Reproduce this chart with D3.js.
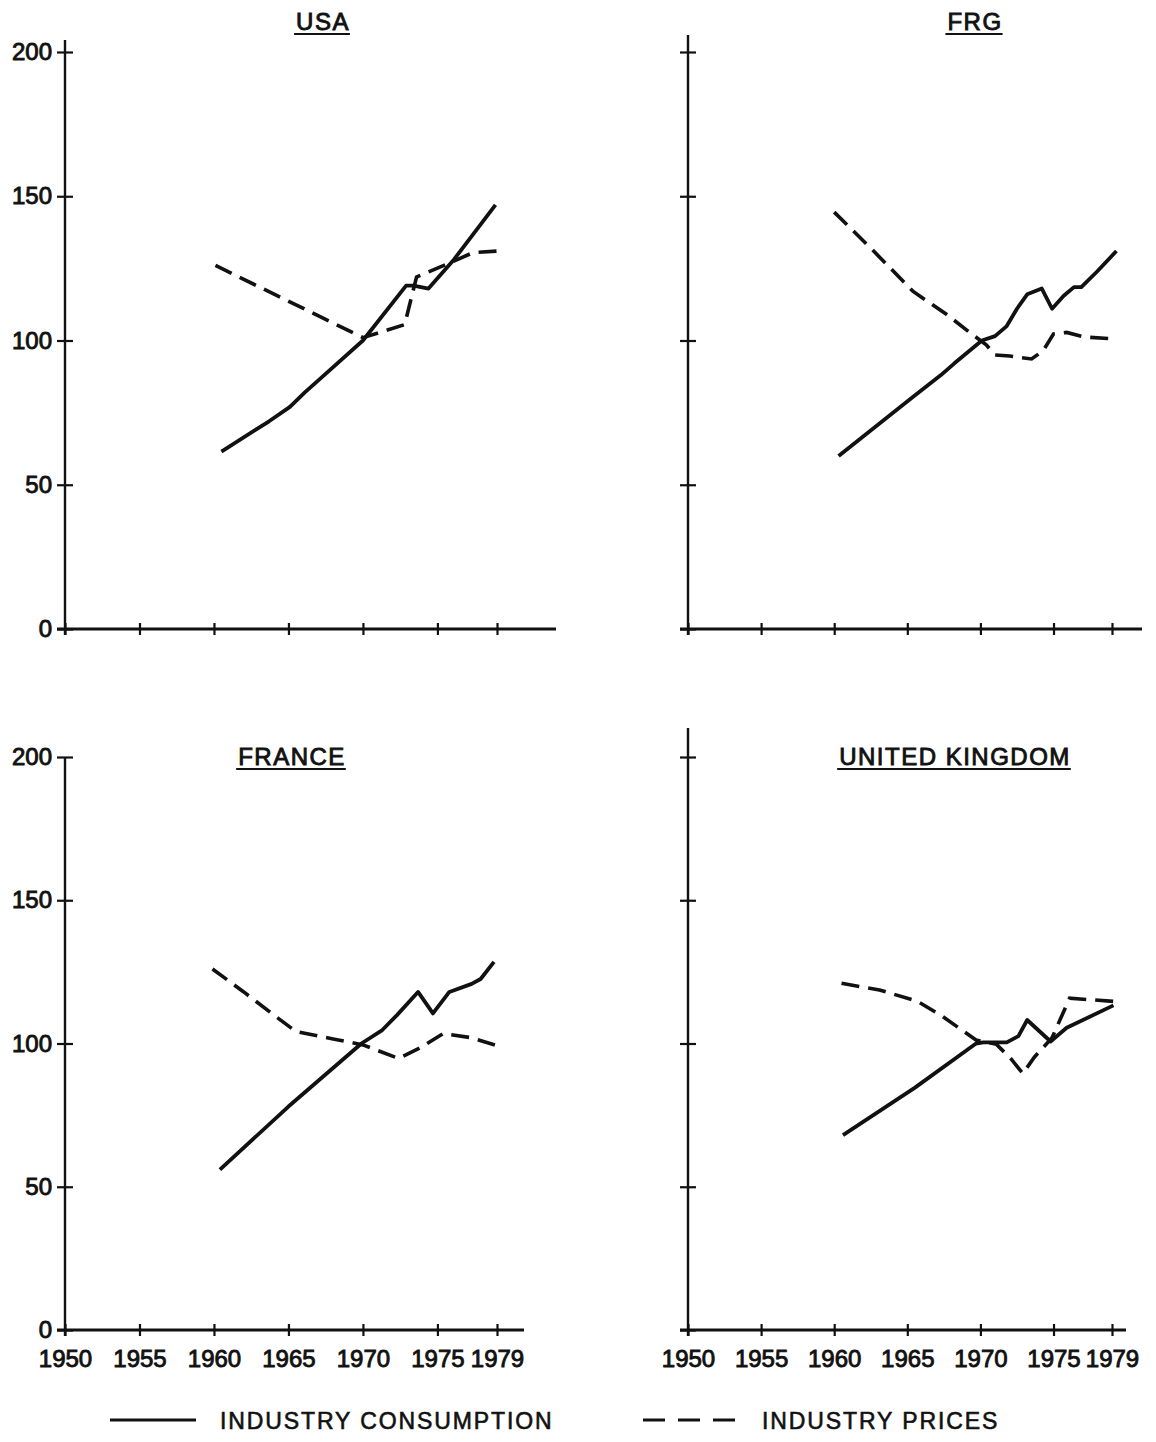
<!DOCTYPE html>
<html>
<head>
<meta charset="utf-8">
<script src="https://cdn.jsdelivr.net/npm/d3@7"></script>
<style>
  body { margin: 0; background: #fff; }
  svg text { font-family: "Liberation Sans", Arial, sans-serif; fill: #111; }
</style>
</head>
<body>
<svg id="chart" width="1156" height="1442"></svg>
<script>
// values: [year, index 1970 = 100]
const usaConsumption = [[1960.5, 61.5], [1963.7, 72], [1965.1, 77], [1966.1, 82], [1967.4, 88], [1970, 100],
  [1972.9, 119], [1973.4, 119], [1974.4, 118], [1976.1, 128], [1978.9, 147]];
const usaPrices = [[1960.1, 126], [1970, 101], [1972.8, 105.5], [1973.6, 122], [1976.1, 127.5], [1977.4, 130.5], [1979, 131]];

const frgConsumption = [[1960.3, 60], [1965.4, 80.5], [1967.3, 88], [1968.2, 92], [1970.1, 100], [1971, 101.5],
  [1971.8, 105], [1972.5, 111], [1973.2, 116], [1974.2, 118], [1974.9, 111], [1975.7, 115.5], [1976.4, 118.5],
  [1976.9, 118.5], [1978, 124], [1979.3, 131]];
const frgPrices = [[1960, 144.5], [1962.6, 131.5], [1965.4, 117], [1967.7, 109], [1969.6, 101.5], [1970.4, 98.5],
  [1971, 95], [1972, 94.6], [1973.5, 93.6], [1974.3, 96.5], [1975, 102.3], [1975.9, 102.8], [1977.1, 101.2], [1979.1, 100.6]];

const franceConsumption = [[1960.4, 56], [1965, 78], [1969.9, 100], [1971.3, 104.7], [1972.3, 110], [1973.7, 118],
  [1974.7, 110.5], [1975.8, 118], [1977.3, 120.8], [1977.9, 122.5], [1978.8, 128.5]];
const francePrices = [[1959.9, 126], [1962, 118], [1964, 110], [1965.5, 104.2], [1968, 101.6], [1970, 99.5],
  [1972.4, 94.8], [1973.8, 98.4], [1975.4, 103.5], [1977.3, 102], [1978.9, 99.4]];

const ukConsumption = [[1960.6, 68], [1965.5, 84.5], [1969.7, 100], [1970.2, 100.4], [1971.8, 100.4], [1972.6, 102.6],
  [1973.2, 108.2], [1974.8, 100.7], [1975.9, 105.5], [1979.1, 113.3]];
const ukPrices = [[1960.5, 121], [1963.1, 118.7], [1965.7, 114.7], [1967.4, 109.5], [1969.7, 101.2], [1971.1, 99.7],
  [1972.1, 94.6], [1972.9, 89.5], [1973.7, 95.3], [1974.9, 102], [1976.1, 115.8], [1979.1, 114.7]];

const yTicks = [0, 50, 100, 150, 200];
const xTicks = [1950, 1955, 1960, 1965, 1970, 1975, 1979];
const seriesNames = ["INDUSTRY CONSUMPTION", "INDUSTRY PRICES"];

const ink = "#111";
const dash = "18,9";

const panels = [
  { title: "USA", cons: usaConsumption, prices: usaPrices,
    x0: 65, x1: 497, xEnd: 556, y0: 629, y1: 52, yTop: 40, titleX: 323, titleY: 30, yLabels: true, xLabels: false },
  { title: "FRG", cons: frgConsumption, prices: frgPrices,
    x0: 688, x1: 1112, xEnd: 1142, y0: 629, y1: 52, yTop: 35, titleX: 975, titleY: 30, yLabels: false, xLabels: false },
  { title: "FRANCE", cons: franceConsumption, prices: francePrices,
    x0: 65, x1: 497, xEnd: 524, y0: 1330, y1: 757, yTop: 757, titleX: 292, titleY: 765, yLabels: true, xLabels: true },
  { title: "UNITED KINGDOM", cons: ukConsumption, prices: ukPrices,
    x0: 688, x1: 1112, xEnd: 1126, y0: 1330, y1: 757, yTop: 728, titleX: 955, titleY: 765, yLabels: false, xLabels: true }
];

const svg = d3.select("#chart");

panels.forEach(p => {
  const g = svg.append("g");
  const x = d3.scaleLinear().domain([1950, 1979]).range([p.x0, p.x1]);
  const y = d3.scaleLinear().domain([0, 200]).range([p.y0, p.y1]);

  // y axis, ticks cross the line
  const ya = g.append("g")
    .attr("transform", `translate(${p.x0},0)`)
    .call(d3.axisLeft(y).tickValues(yTicks).tickSize(8).tickPadding(5)
      .tickFormat(p.yLabels ? d3.format("d") : () => ""));
  ya.select(".domain").remove();
  ya.selectAll(".tick line").attr("x1", 8).attr("stroke", ink).attr("stroke-width", 2.2);
  ya.selectAll("text").attr("font-size", 24).attr("fill", ink)
    .attr("stroke", ink).attr("stroke-width", 0.9);

  g.append("line")
    .attr("x1", p.x0).attr("x2", p.x0)
    .attr("y1", p.yTop).attr("y2", p.y0 + 6)
    .attr("stroke", ink).attr("stroke-width", 2.4);

  // x axis
  const xa = g.append("g")
    .attr("transform", `translate(0,${p.y0})`)
    .call(d3.axisBottom(x).tickValues(xTicks).tickSize(6).tickPadding(14)
      .tickFormat(p.xLabels ? d3.format("d") : () => ""));
  xa.select(".domain").remove();
  xa.selectAll(".tick line").attr("y1", -6).attr("stroke", ink).attr("stroke-width", 2.2);
  xa.selectAll("text").attr("font-size", 24).attr("fill", ink)
    .attr("stroke", ink).attr("stroke-width", 0.9);

  g.append("line")
    .attr("x1", p.x0 - 8).attr("x2", p.xEnd)
    .attr("y1", p.y0).attr("y2", p.y0)
    .attr("stroke", ink).attr("stroke-width", 2.8);

  // title, underlined
  const t = g.append("text")
    .attr("x", p.titleX).attr("y", p.titleY)
    .attr("text-anchor", "middle")
    .attr("font-size", 24)
    .attr("letter-spacing", 1.5)
    .attr("stroke", ink).attr("stroke-width", 0.9)
    .text(p.title);
  const bb = t.node().getBBox();
  g.append("line")
    .attr("x1", bb.x - 2).attr("x2", bb.x + bb.width)
    .attr("y1", p.titleY + 4).attr("y2", p.titleY + 4)
    .attr("stroke", ink).attr("stroke-width", 2.2);

  const line = d3.line().x(d => x(d[0])).y(d => y(d[1]));

  g.append("path")
    .attr("d", line(p.cons))
    .attr("fill", "none").attr("stroke", ink)
    .attr("stroke-width", 3.8).attr("stroke-linejoin", "round");

  g.append("path")
    .attr("d", line(p.prices))
    .attr("fill", "none").attr("stroke", ink)
    .attr("stroke-width", 3.6).attr("stroke-dasharray", dash);
});

// legend
const legend = svg.append("g");
const legendItems = [
  { name: seriesNames[0], lx: 110, lw: 86, tx: 220, dash: null },
  { name: seriesNames[1], lx: 643, lw: 92, tx: 762, dash: "22,13" }
];
legendItems.forEach(it => {
  legend.append("line")
    .attr("x1", it.lx).attr("x2", it.lx + it.lw)
    .attr("y1", 1420).attr("y2", 1420)
    .attr("stroke", ink).attr("stroke-width", 3.2)
    .attr("stroke-dasharray", it.dash);
  legend.append("text")
    .attr("x", it.tx).attr("y", 1429)
    .attr("font-size", 23)
    .attr("letter-spacing", 1.9)
    .attr("stroke", ink).attr("stroke-width", 0.6)
    .text(it.name);
});
</script>
</body>
</html>
